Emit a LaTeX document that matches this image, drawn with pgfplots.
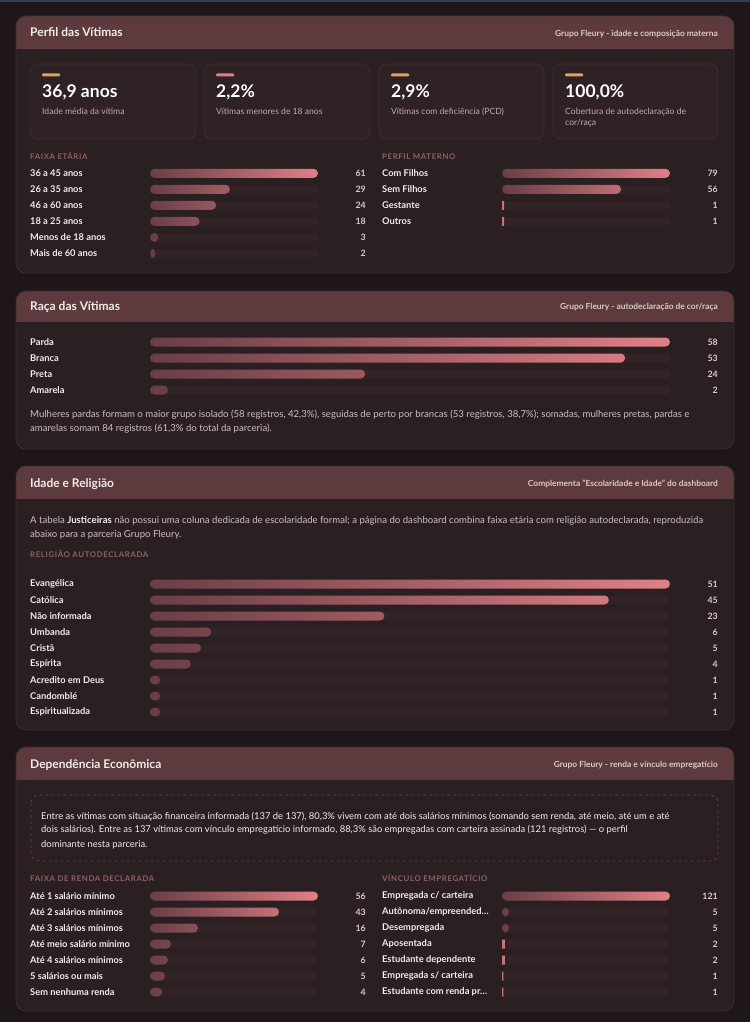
\documentclass[border=0pt]{standalone}
\usepackage{fontspec}
\setmainfont{Lato}
\newfontfamily\capsfont[LetterSpace=8]{Lato}
\usepackage{pgfplots}
\pgfplotsset{compat=1.18}
\usepackage{pgfplotstable}

\definecolor{pagebg}{RGB}{30,22,24}
\definecolor{panelbg}{RGB}{42,31,33}
\definecolor{panelbd}{RGB}{62,45,48}
\definecolor{headbg}{RGB}{92,58,62}
\definecolor{cardbg}{RGB}{47,34,37}
\definecolor{cardbd}{RGB}{64,47,50}
\definecolor{trackc}{RGB}{50,35,38}
\definecolor{barL}{RGB}{106,62,69}
\definecolor{barR}{RGB}{224,128,136}
\definecolor{txtmain}{RGB}{242,236,236}
\definecolor{txtsub}{RGB}{218,202,204}
\definecolor{txtpara}{RGB}{206,190,192}
\definecolor{seclab}{RGB}{142,98,100}
\definecolor{kpilab}{RGB}{196,168,170}
\definecolor{accO}{RGB}{222,163,92}
\definecolor{accP}{RGB}{224,128,136}
\definecolor{topline}{RGB}{48,64,84}
\definecolor{boxbd}{RGB}{100,66,72}

\newcommand\fs[1]{\fontsize{#1}{#1}\selectfont}

\pgfplotstableread[col sep=comma]{
idx,label,val,full
0,36 a 45 anos,61,61
1,26 a 35 anos,29,61
2,46 a 60 anos,24,61
3,18 a 25 anos,18,61
4,Menos de 18 anos,3,61
5,Mais de 60 anos,2,61
}\tFaixa

\pgfplotstableread[col sep=comma]{
idx,label,val,full
0,Com Filhos,79,79
1,Sem Filhos,56,79
2,Gestante,1,79
3,Outros,1,79
}\tMaterno

\pgfplotstableread[col sep=comma]{
idx,label,val,full
0,Parda,58,58
1,Branca,53,58
2,Preta,24,58
3,Amarela,2,58
}\tRaca

\pgfplotstableread[col sep=comma]{
idx,label,val,full
0,Evangélica,51,51
1,Católica,45,51
2,Não informada,23,51
3,Umbanda,6,51
4,Cristã,5,51
5,Espírita,4,51
6,Acredito em Deus,1,51
7,Candomblé,1,51
8,Espiritualizada,1,51
}\tReligiao

\pgfplotstableread[col sep=comma]{
idx,label,val,full
0,Até 1 salário mínimo,56,56
1,Até 2 salários mínimos,43,56
2,Até 3 salários mínimos,16,56
3,Até meio salário mínimo,7,56
4,Até 4 salários mínimos,6,56
5,5 salários ou mais,5,56
6,Sem nenhuma renda,4,56
}\tRenda

\pgfplotstableread[col sep=comma]{
idx,label,val,full
0,Empregada c/ carteira,121,121
1,Autônoma/empreended…,5,121
2,Desempregada,5,121
3,Aposentada,2,121
4,Estudante dependente,2,121
5,Empregada s/ carteira,1,121
6,Estudante com renda pr…,1,121
}\tVinculo

\pgfplotsset{
  barax/.style={
    scale only axis, xbar, bar width=9pt, xmin=0, ymin=-0.5,
    enlargelimits=false, y dir=reverse, clip=false,
    /pgf/number format/assume math mode=true,
    axis line style={draw=none}, major tick length=0pt, xtick=\empty, ytick=data,
    yticklabel style={anchor=west, xshift=-120pt, font=\bfseries\fs{9.3}, text=txtmain, inner sep=0pt},
  },
  trackplot/.style={xbar, bar shift=0pt, fill=trackc, draw=none, rounded corners=4.5pt,
    nodes near coords, point meta=explicit,
    every node near coord/.append style={anchor=east, xshift=#1, font=\bfseries\fs{8.8}, text=txtsub, inner sep=0pt, rounded corners=0pt}},
  barplot/.style={xbar, bar shift=0pt, draw=none, left color=barL, right color=barR, rounded corners=4.5pt},
  thinbar/.style={xbar, bar shift=0pt, draw=none, fill=barR!80!barL},
}

\newcommand\bargroup[8]{%
  % #1 x, #2 y top (positive downward), #3 width, #4 height, #5 table, #6 ymax, #7 xmax, #8 threshold for rounded bars
  \begin{axis}[barax, at={(#1pt,-#2pt)}, anchor=north west, width=#3, height=#4,
      ymax=#6, xmax=#7, yticklabels from table={#5}{label}]
    \addplot[trackplot=48pt] table[x=full, y=idx, meta=val]{#5};
    \addplot[barplot, restrict x to domain=#8:100000] table[x=val, y=idx]{#5};
    \addplot[thinbar, restrict x to domain=0:#8] table[x=val, y=idx]{#5};
  \end{axis}}

\newcommand\panel[3]{%
  \fill[panelbg, rounded corners=10pt] (16,#1) rectangle (734,#3);
  \fill[headbg, rounded corners=10pt] (16,#1) rectangle (734,#2);
  \fill[headbg] (16,{#2-10}) rectangle (734,#2);
  \draw[panelbd, line width=0.8pt, rounded corners=10pt] (16,#1) rectangle (734,#3);}

\newcommand\kpi[6]{%
  \filldraw[fill=cardbg, draw=cardbd, line width=0.8pt, rounded corners=8pt] (#1,64) rectangle (#2,139);
  \fill[#3, rounded corners=1pt] ({#1+12},73.5) rectangle ({#1+30},76.5);
  \node[anchor=base west, inner sep=0pt, font=\bfseries\fs{17.5}, text=white] at ({#1+12},98) {#4};
  \node[anchor=base west, inner sep=0pt, font=\fs{8.6}, text=kpilab] at ({#1+12},115) {#5};
  \node[anchor=base west, inner sep=0pt, font=\fs{8.6}, text=kpilab] at ({#1+12},126) {#6};}

\newcommand\ptitle[2]{\node[anchor=base west, inner sep=0pt, font=\bfseries\fs{12}, text=txtmain] at (30,#1) {#2};}
\newcommand\psubtitle[2]{\node[anchor=base east, inner sep=0pt, font=\bfseries\fs{8.4}, text=txtsub] at (718,#1) {#2};}
\newcommand\seclabel[3]{\node[anchor=base west, inner sep=0pt, font=\capsfont\bfseries\fs{7.8}, text=seclab] at (#1,#2) {#3};}
\newcommand\para[3]{\node[anchor=base west, inner sep=0pt, font=\fs{9.6}, text=txtpara] at (#1,#2) {#3};}

\begin{document}
\begin{tikzpicture}[x=1pt, y=-1pt]
\path[use as bounding box, fill=pagebg] (0,0) rectangle (750,1022);
\fill[topline] (0,0) rectangle (750,2);

% ---------- Panel 1
\panel{16}{49}{273}
\ptitle{37}{Perfil das Vítimas}
\psubtitle{36.5}{Grupo Fleury - idade e composição materna}
\kpi{30}{196}{accO}{36,9 anos}{Idade média da vítima}{}
\kpi{204}{370}{accP}{2,2\%}{Vítimas menores de 18 anos}{}
\kpi{379}{544}{accO}{2,9\%}{Vítimas com deficiência (PCD)}{}
\kpi{553}{718}{accO}{100,0\%}{Cobertura de autodeclaração de}{cor/raça}
\seclabel{30}{159.5}{FAIXA ETÁRIA}
\seclabel{382}{159.5}{PERFIL MATERNO}
\bargroup{150}{165.3}{168pt}{96pt}{\tFaixa}{5.5}{61}{1.5}
\bargroup{502}{165.3}{168pt}{64pt}{\tMaterno}{3.5}{79}{1.5}

% ---------- Panel 2
\panel{291}{322}{449}
\ptitle{310}{Raça das Vítimas}
\psubtitle{309.5}{Grupo Fleury - autodeclaração de cor/raça}
\bargroup{150}{334}{520pt}{64pt}{\tRaca}{3.5}{58}{0.5}
\para{30}{417}{Mulheres pardas formam o maior grupo isolado (58 registros, 42,3\%), seguidas de perto por brancas (53 registros, 38,7\%); somadas, mulheres pretas, pardas e}
\para{30}{431}{amarelas somam 84 registros (61,3\% do total da parceria).}

% ---------- Panel 3
\panel{466}{499}{730}
\ptitle{487}{Idade e Religião}
\psubtitle{486.5}{Complementa "Escolaridade e Idade" do dashboard}
\para{30}{523}{A tabela \textbf{\color{txtmain}Justiceiras} não possui uma coluna dedicada de escolaridade formal; a página do dashboard combina faixa etária com religião autodeclarada, reproduzida}
\para{30}{537}{abaixo para a parceria Grupo Fleury.}
\seclabel{30}{557}{RELIGIÃO AUTODECLARADA}
\bargroup{150}{576}{520pt}{144pt}{\tReligiao}{8.5}{51}{0.5}

% ---------- Panel 4
\panel{747}{780}{1011}
\ptitle{768}{Dependência Econômica}
\psubtitle{767.5}{Grupo Fleury - renda e vínculo empregatício}
\filldraw[fill=panelbg, draw=boxbd, dashed, line width=0.7pt, rounded corners=8pt] (31,795) rectangle (718,861);
\node[anchor=base west, inner sep=0pt, font=\fs{9.4}, text=txtmain] at (41,819) {Entre as vítimas com situação financeira informada (137 de 137), 80,3\% vivem com até dois salários mínimos (somando sem renda, até meio, até um e até};
\node[anchor=base west, inner sep=0pt, font=\fs{9.4}, text=txtmain] at (41,832) {dois salários). Entre as 137 vítimas com vínculo empregatício informado, 88,3\% são empregadas com carteira assinada (121 registros) — o perfil};
\node[anchor=base west, inner sep=0pt, font=\fs{9.4}, text=txtmain] at (41,847) {dominante nesta parceria.};
\seclabel{30}{881.5}{FAIXA DE RENDA DECLARADA}
\seclabel{382}{881.5}{VÍNCULO EMPREGATÍCIO}
\bargroup{150}{888}{168pt}{112pt}{\tRenda}{6.5}{56}{0.5}
\bargroup{502}{888}{168pt}{112pt}{\tVinculo}{6.5}{121}{2.5}
\end{tikzpicture}
\end{document}
